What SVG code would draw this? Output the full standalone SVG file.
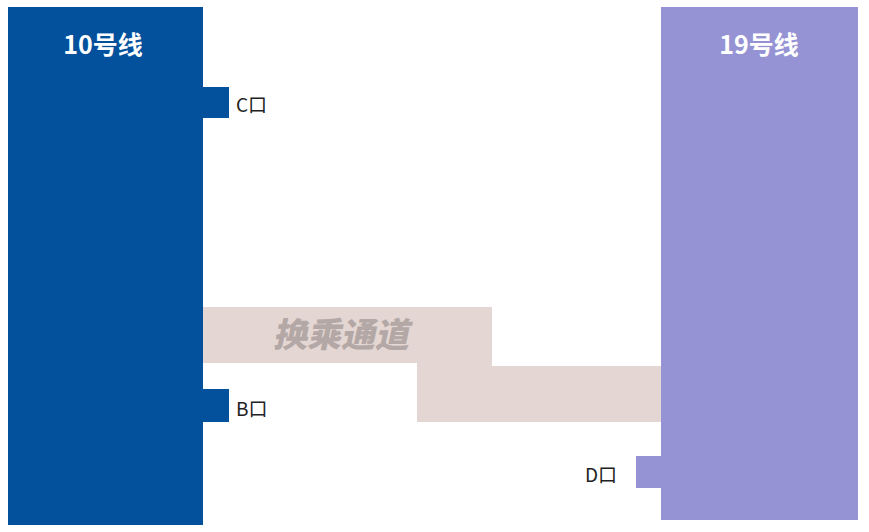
<svg xmlns="http://www.w3.org/2000/svg" width="869" height="532" viewBox="0 0 869 532">
<style>
.line10{fill:#03519d}
.line19{fill:#9593d4}
.title{font-family:"Noto Sans CJK SC","Noto Sans",sans-serif;font-weight:bold;font-size:25px;fill:#ffffff;text-anchor:middle}
.port{font-family:"Noto Sans CJK SC","Noto Sans",sans-serif;font-size:19px;fill:#222222;dominant-baseline:central}
.corr{fill:#e4d6d2}
.corrtxt{font-family:"Noto Sans CJK SC",sans-serif;font-weight:900;font-size:34px;fill:#b3a8a6}
</style>
<rect width="869" height="532" fill="#ffffff"/>
<g id="corridor">
<polygon class="corr" points="203,307 492,307 492,366 661,366 661,422 417,422 417,363 203,363"/>
<text class="corrtxt" transform="translate(341,347) skewX(-12)" text-anchor="middle">换乘通道</text>
</g>
<g id="line10">
<rect class="line10" x="8" y="7" width="195" height="518"/>
<text class="title" x="103" y="54">10号线</text>
</g>
<g id="portC">
<rect class="line10" x="202" y="87" width="27" height="31"/>
<text class="port" x="236" y="103">C口</text>
</g>
<g id="portB">
<rect class="line10" x="202" y="389" width="27" height="33"/>
<text class="port" x="236" y="407">B口</text>
</g>
<g id="line19">
<rect class="line19" x="661" y="7" width="197" height="513"/>
<text class="title" x="759" y="54">19号线</text>
</g>
<g id="portD">
<rect class="line19" x="636" y="456" width="26" height="32"/>
<text class="port" x="585" y="473">D口</text>
</g>
<g id="connectors"/>
</svg>
